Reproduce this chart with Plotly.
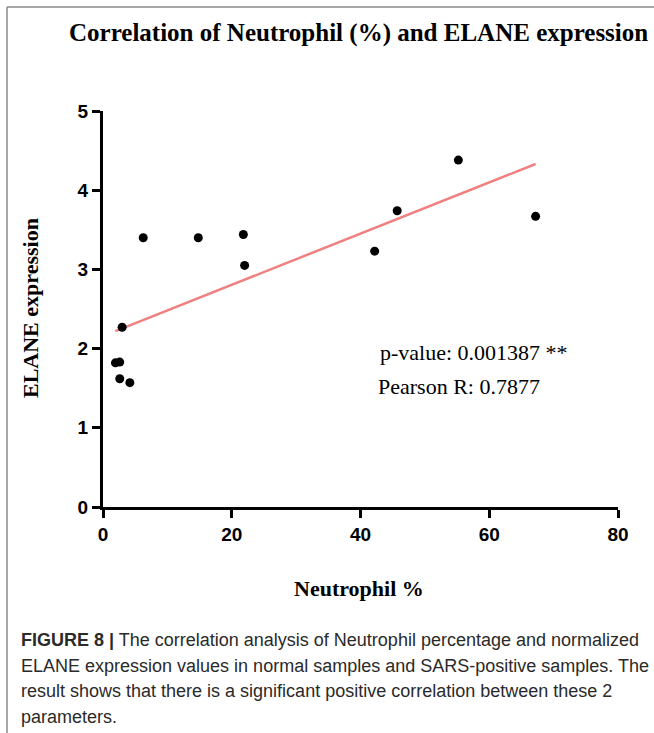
import numpy as np
import plotly.graph_objects as go

neutrophil_pct = [6.25, 14.8, 21.8, 22.0, 2.97, 1.93, 2.6, 2.6, 4.17, 55.2, 45.7, 42.2, 67.2]
elane_expr = [3.40, 3.40, 3.44, 3.05, 2.27, 1.82, 1.83, 1.62, 1.57, 4.38, 3.74, 3.23, 3.67]
x_ticks = [0, 20, 40, 60, 80]
y_ticks = [0, 1, 2, 3, 4, 5]
title_text = "Correlation of Neutrophil (%) and ELANE expression"
x_title = "Neutrophil %"
y_title = "ELANE expression"
stats_lines = ["p-value: 0.001387 **", "Pearson R: 0.7877"]
caption_lines = [
    "<b>FIGURE 8 |</b> The correlation analysis of Neutrophil percentage and normalized",
    "ELANE expression values in normal samples and SARS-positive samples. The",
    "result shows that there is a significant positive correlation between these 2",
    "parameters.",
]

W, H = 654, 733
L, R, T, B = 103, 36, 111, 226
pw, ph = W - L - R, H - T - B

def px2x(px):
    return (px - L) / pw

def py2y(py):
    return (H - B - py) / ph

xs = np.array(neutrophil_pct)
ys = np.array(elane_expr)
slope, intercept = np.polyfit(xs, ys, 1)
fx = np.array([xs.min(), xs.max()])
fy = slope * fx + intercept

fig = go.Figure()
fig.add_trace(go.Scatter(x=fx, y=fy, mode="lines",
                         line=dict(color="rgb(240,128,128)", width=2.5),
                         showlegend=False, hoverinfo="skip"))
fig.add_trace(go.Scatter(x=xs, y=ys, mode="markers",
                         marker=dict(color="black", size=9),
                         showlegend=False))

axis_common = dict(showline=True, linecolor="black", linewidth=3,
                   ticks="outside", ticklen=8, tickwidth=3, tickcolor="black",
                   showgrid=False, zeroline=False,
                   tickfont=dict(family="Liberation Sans", size=19, color="black", weight="bold"))
fig.update_xaxes(range=[0, 80], tickvals=x_ticks, **axis_common)
fig.update_yaxes(range=[0, 5], tickvals=y_ticks, **axis_common)

annotations = [
    dict(text="<b>" + title_text + "</b>", x=px2x(358), y=py2y(33), xref="paper", yref="paper",
         showarrow=False, xanchor="center", yanchor="middle",
         font=dict(family="Liberation Serif", size=25, color="black")),
    dict(text="<b>" + x_title + "</b>", x=px2x(359), y=py2y(588), xref="paper", yref="paper",
         showarrow=False, xanchor="center", yanchor="middle",
         font=dict(family="Liberation Serif", size=22, color="black")),
    dict(text="<b>" + y_title + "</b>", x=px2x(30), y=py2y(308), xref="paper", yref="paper",
         showarrow=False, xanchor="center", yanchor="middle", textangle=-90,
         font=dict(family="Liberation Serif", size=22, color="black")),
    dict(text=stats_lines[0], x=px2x(378), y=py2y(352), xref="paper", yref="paper",
         showarrow=False, xanchor="left", yanchor="middle",
         font=dict(family="Liberation Serif", size=22, color="black")),
    dict(text=stats_lines[1], x=px2x(376), y=py2y(386), xref="paper", yref="paper",
         showarrow=False, xanchor="left", yanchor="middle",
         font=dict(family="Liberation Serif", size=22, color="black")),
]
for i, line in enumerate(caption_lines):
    annotations.append(dict(text=line, x=px2x(19), y=py2y(640 + i * 25.7), xref="paper", yref="paper",
                            showarrow=False, xanchor="left", yanchor="middle",
                            font=dict(family="Liberation Sans", size=18, color="#2a2a2a")))

shapes = [
    dict(type="line", xref="paper", yref="paper", x0=px2x(7), x1=px2x(7), y0=py2y(7), y1=py2y(740),
         line=dict(color="#8a8a8a", width=1.5)),
    dict(type="line", xref="paper", yref="paper", x0=px2x(7), x1=px2x(660), y0=py2y(7), y1=py2y(7),
         line=dict(color="#8a8a8a", width=1.5)),
]

fig.update_layout(width=W, height=H, margin=dict(l=L, r=R, t=T, b=B),
                  plot_bgcolor="white", paper_bgcolor="white",
                  annotations=annotations, shapes=shapes, showlegend=False)

fig.write_html("out.html", config={"displayModeBar": False},
               post_script="document.body.style.margin='0';document.body.style.overflow='hidden';")
